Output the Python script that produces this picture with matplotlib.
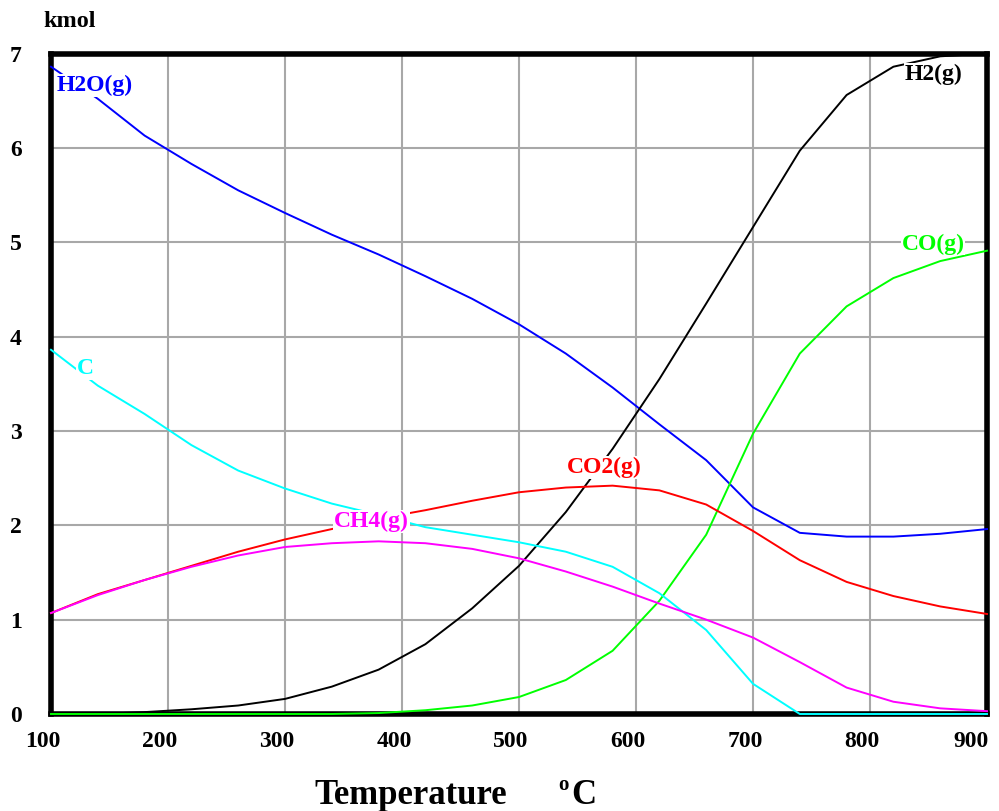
import matplotlib
matplotlib.use("Agg")
import matplotlib.pyplot as plt
import matplotlib.transforms as mtransforms

temperature = [100, 140, 180, 220, 260, 300, 340, 380, 420, 460, 500,
               540, 580, 620, 660, 700, 740, 780, 820, 860, 900]

h2o = [6.86, 6.52, 6.13, 5.83, 5.55, 5.31, 5.08, 4.87, 4.64, 4.40, 4.13,
       3.82, 3.46, 3.07, 2.69, 2.19, 1.92, 1.88, 1.88, 1.91, 1.96]
h2 = [0.00, 0.00, 0.02, 0.05, 0.09, 0.16, 0.29, 0.47, 0.74, 1.12, 1.57,
      2.14, 2.81, 3.55, 4.35, 5.16, 5.97, 6.56, 6.86, 6.97, 7.00]
co = [0.00, 0.00, 0.00, 0.00, 0.00, 0.00, 0.00, 0.01, 0.04, 0.09, 0.18,
      0.36, 0.67, 1.20, 1.90, 2.97, 3.82, 4.32, 4.62, 4.80, 4.91]
c = [3.86, 3.48, 3.18, 2.85, 2.58, 2.39, 2.23, 2.11, 1.98, 1.90, 1.82,
     1.72, 1.56, 1.28, 0.89, 0.32, 0.00, 0.00, 0.00, 0.00, 0.00]
co2 = [1.07, 1.27, 1.42, 1.57, 1.72, 1.85, 1.96, 2.07, 2.16, 2.26, 2.35,
       2.40, 2.42, 2.37, 2.22, 1.94, 1.63, 1.40, 1.25, 1.14, 1.06]
ch4 = [1.07, 1.26, 1.42, 1.56, 1.68, 1.77, 1.81, 1.83, 1.81, 1.75, 1.65,
       1.51, 1.35, 1.17, 1.00, 0.81, 0.55, 0.28, 0.13, 0.06, 0.03]

series_names = ["H2O(g)", "H2(g)", "CO(g)", "C", "CO2(g)", "CH4(g)"]
series_values = [h2o, h2, co, c, co2, ch4]
series_colors = ["#0000FF", "#000000", "#00FF00", "#00FFFF", "#FF0000", "#FF00FF"]
label_pos = [(137, 6.66), (854, 6.78), (854, 4.98), (129, 3.66), (573, 2.61), (374, 2.04)]

x_ticks = [100, 200, 300, 400, 500, 600, 700, 800, 900]
y_ticks = [0, 1, 2, 3, 4, 5, 6, 7]

FONT = "Liberation Serif"

fig = plt.figure(figsize=(9.99, 8.11), dpi=100)
ax = fig.add_axes([51/999, 1 - 714/811, (987-51)/999, (714-53.5)/811])

for name, vals, col, (lx, ly) in zip(series_names, series_values, series_colors, label_pos):
    ax.plot(temperature, vals, color=col, lw=1.4, zorder=3, clip_on=False)
    ax.text(lx, ly, name, color=col, fontsize=17, fontweight="bold", family=FONT,
            ha="center", va="center", zorder=4,
            bbox=dict(facecolor="white", edgecolor="none", pad=0.5))

ax.set_xlim(100, 900)
ax.set_ylim(0, 7)
ax.set_xticks(x_ticks)
ax.set_yticks(y_ticks)
ax.grid(True, color="#a8a8a8", lw=1.5, zorder=1)
ax.set_axisbelow(True)
for s in ax.spines.values():
    s.set_linewidth(4)
    s.set_color("black")
ax.tick_params(length=0)
ax.tick_params(axis="x", pad=12)
ax.tick_params(axis="y", pad=21)
for lab in ax.get_xticklabels() + ax.get_yticklabels():
    lab.set_fontfamily(FONT)
    lab.set_fontweight("bold")
    lab.set_fontsize(17)

shift = mtransforms.ScaledTranslation(-8/100, 0, fig.dpi_scale_trans)
xlabels = ax.get_xticklabels()
for lab in xlabels[:-1]:
    lab.set_transform(lab.get_transform() + shift)
xlabels[-1].set_horizontalalignment("right")
xlabels[-1].set_transform(xlabels[-1].get_transform()
                          + mtransforms.ScaledTranslation(2/100, 0, fig.dpi_scale_trans))

fig.text(43/999, 1 - 27/811, "kmol", fontsize=17.5, fontweight="bold", family=FONT,
         ha="left", va="baseline")
fig.text(314/999, 1 - 804/811, "Temperature", fontsize=25, fontweight="bold", family=FONT,
         ha="left", va="baseline")
fig.text(558/999, 1 - 790/811, "o", fontsize=15, fontweight="bold", family=FONT,
         ha="left", va="baseline")
fig.text(571/999, 1 - 804/811, "C", fontsize=25, fontweight="bold", family=FONT,
         ha="left", va="baseline")

fig.savefig("out.png", dpi=100)
